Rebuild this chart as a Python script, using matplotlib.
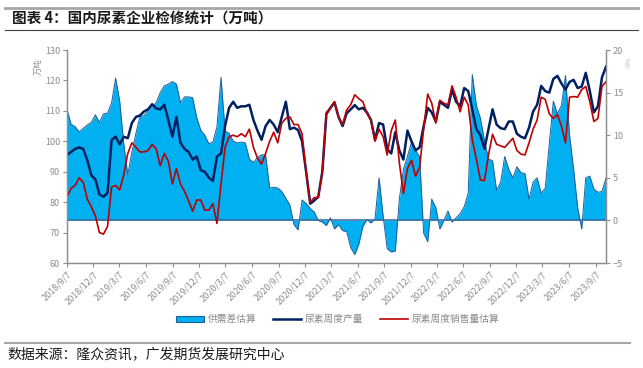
import pandas as pd
import matplotlib
matplotlib.use('agg')
import matplotlib.pyplot as plt
from matplotlib.patches import Patch
from matplotlib.lines import Line2D

plt.rcParams['font.family'] = ['Noto Sans CJK SC', 'DejaVu Sans']

# 双周采样（2018/9/7 起）
dates = pd.date_range('2018-09-07', periods=134, freq='14D')

# 供需差估算（右轴）
gap = [13.0, 11.3, 11.0, 10.4, 10.8, 11.2, 11.5, 12.4, 11.5, 12.5,
       12.6, 13.8, 16.7, 14.0, 9.0, 5.4, 8.0, 10.2, 12.2, 12.3,
       12.9, 13.4, 13.8, 15.0, 15.8, 16.0, 16.3, 16.0, 13.8, 14.5,
       14.5, 14.4, 12.1, 10.6, 10.0, 9.0, 9.2, 11.0, 16.8, 10.5,
       10.2, 9.3, 9.1, 9.2, 9.1, 7.2, 6.8, 7.4, 7.7, 7.7,
       3.8, 3.9, 3.8, 3.4, 2.6, 1.8, -0.5, -1.1, 2.4, 2.0,
       1.4, 1.0, 0.0, -0.2, -0.6, 0.3, -1.0, -0.5, -1.2, -1.3,
       -3.2, -4.0, -2.8, -0.7, 0.1, -0.3, 0.2, 5.0, 0.5, -3.3,
       -3.7, -3.6, 2.5, 6.0, 7.5, 9.2, 8.2, 7.5, -1.5, -2.5,
       2.5, 1.5, -1.0, 0.0, 1.1, -0.2, 0.3, 0.8, 1.6, 3.2,
       17.1, 13.5, 12.0, 9.4, 7.2, 7.0, 3.5, 4.5, 7.5, 6.0,
       5.0, 6.3, 5.6, 5.5, 2.5, 4.5, 5.0, 3.2, 3.8, 9.0,
       14.0, 12.5, 13.5, 17.0, 10.0, 6.0, 1.5, -1.0, 5.0, 5.2,
       3.7, 3.3, 3.4, 5.0]

# 尿素周度产量（左轴）
output = [95.5, 96.5, 97.5, 98.0, 97.5, 93.8, 88.8, 87.5, 82.5, 81.8,
          83.0, 100.5, 101.5, 99.0, 101.5, 101.0, 106.0, 108.0, 108.5, 109.8,
          110.5, 112.2, 110.8, 110.5, 112.0, 107.0, 101.5, 108.0, 99.5, 97.5,
          96.5, 94.0, 95.0, 90.5, 90.0, 88.0, 87.0, 95.0, 96.0, 105.0,
          111.0, 113.0, 111.0, 111.5, 111.5, 112.0, 107.0, 103.5, 100.5, 105.0,
          107.0, 105.5, 103.0, 108.0, 113.0, 104.0, 104.5, 103.7, 100.0, 90.0,
          79.5, 80.5, 81.8, 90.0, 109.0, 111.0, 112.8, 108.0, 105.0, 109.2,
          110.5, 111.9, 110.5, 111.0, 109.5, 107.0, 100.5, 106.0, 105.5, 97.5,
          96.0, 103.0, 97.0, 94.0, 103.5, 100.0, 97.0, 98.0, 105.0, 111.0,
          109.5, 106.5, 113.0, 112.0, 111.0, 117.0, 113.0, 111.5, 117.5, 116.5,
          110.5, 104.0, 102.0, 97.5, 104.0, 110.5, 105.5, 104.3, 104.0, 106.5,
          106.5, 102.5, 101.5, 101.0, 104.5, 109.8, 112.0, 118.2, 116.5, 116.0,
          120.5, 121.5, 119.0, 117.0, 119.5, 120.2, 117.5, 118.0, 122.5, 116.5,
          109.5, 111.5, 121.0, 124.5]

# 尿素周度销售量估算（左轴）
sales = [81.8, 84.5, 85.5, 88.0, 86.5, 81.0, 78.5, 75.5, 70.0, 69.5,
         72.0, 85.0, 85.5, 84.0, 89.0, 96.0, 99.5, 98.0, 96.5, 96.5,
         97.0, 99.0, 97.5, 92.0, 96.0, 93.5, 86.0, 91.0, 86.0, 83.5,
         80.5, 77.0, 80.7, 80.7, 77.4, 77.4, 79.5, 73.0, 86.0, 98.0,
         101.5, 102.0, 101.5, 102.5, 101.5, 104.0, 98.0, 94.5, 92.5, 96.0,
         100.0, 103.0, 99.5, 106.0, 107.5, 108.0, 105.5, 105.5, 102.5, 90.0,
         80.0, 81.5, 81.5, 90.0, 109.5, 110.8, 113.0, 108.0, 105.5, 110.3,
         112.0, 115.3, 114.0, 113.0, 109.2, 107.0, 100.0, 104.0, 101.5, 95.5,
         103.5, 107.0, 93.0, 82.8, 91.0, 93.8, 88.5, 91.5, 104.0, 115.5,
         112.5, 106.0, 113.5, 112.5, 112.0, 118.2, 114.5, 109.7, 114.5, 112.0,
         100.5, 94.2, 87.3, 87.1, 95.5, 102.3, 99.0, 98.5, 98.0, 99.5,
         101.0, 97.0, 95.8, 95.5, 99.5, 104.0, 107.0, 114.5, 113.8, 109.0,
         107.5, 108.8, 105.0, 99.5, 114.5, 114.7, 114.5, 117.0, 118.0, 113.0,
         106.5, 107.5, 118.0, 119.6]

tick_dates = pd.date_range('2018-09-01', '2023-09-01', freq='3MS') + pd.Timedelta(days=6)
tick_labels = [f'{d.year}/{d.month}/{d.day}' for d in tick_dates]

GRAY = '#8c8c8c'
AXC = '#8f8f8f'

fig = plt.figure(figsize=(6.43, 3.68), dpi=100)
ax = fig.add_axes([0.1042, 0.2853, 0.8383, 0.5788])
ax2 = ax.twinx()
ax.set_zorder(ax2.get_zorder() + 1)
ax.patch.set_visible(False)

# 供需差
ax2.fill_between(dates, 0, gap, color='#00B0F0', lw=0)
ax2.plot(dates, gap, color='#1F5C99', lw=0.7)
ax2.axhline(0, color='#3F6FA0', lw=1.2)
ax2.set_ylim(-5, 20)
ax2.set_yticks(range(-5, 21, 5))

# 产量、销量
ax.plot(dates, output, color='#002060', lw=1.8)
ax.plot(dates, sales, color='#C00000', lw=1.2)
ax.set_ylim(60, 130)
ax.set_yticks(range(60, 131, 10))
ax.set_xlim(dates[0], dates[-1])
ax.set_xticks(tick_dates)
ax.set_xticklabels(tick_labels, rotation=45, ha='right', rotation_mode='anchor')

for a in (ax, ax2):
    a.spines['top'].set_visible(False)
    for s in ('left', 'right', 'bottom'):
        a.spines[s].set_color(AXC)
        a.spines[s].set_linewidth(0.9)
    a.tick_params(axis='both', colors=AXC, labelcolor=GRAY, labelsize=6.5,
                  length=3, width=0.8, pad=2)

fig.text(0.059, 0.818, '万吨', rotation=90, fontsize=6, color=GRAY,
         ha='center', va='center')
fig.text(0.978, 0.83, '万吨', rotation=90, fontsize=4, color='#c8c8c8',
         ha='center', va='center')

handles = [Patch(facecolor='#00B0F0', edgecolor='#1F5C99', lw=0.8),
           Line2D([], [], color='#002060', lw=1.8),
           Line2D([], [], color='#C00000', lw=1.2)]
labels = ['供需差估算', '尿素周度产量', '尿素周度销售量估算']
fig.legend(handles, labels, loc='center', bbox_to_anchor=(0.525, 0.133),
           ncol=3, frameon=False, fontsize=7, labelcolor=GRAY,
           handlelength=2.9, handleheight=0.6, handletextpad=0.35,
           columnspacing=1.7)

# 标题与来源
fig.add_artist(Line2D([0.008, 0.992], [0.978, 0.978], color='#a6a6a6', lw=2))
fig.add_artist(Line2D([0.008, 0.992], [0.918, 0.918], color='#404040', lw=0.8))
fig.text(0.018, 0.949, '图表 4：国内尿素企业检修统计（万吨）', fontsize=10.5,
         fontweight='bold', color='#1a1a1a', va='center')
fig.add_artist(Line2D([0.008, 0.98], [0.068, 0.068], color='#a6a6a6', lw=1.5))
fig.text(0.012, 0.037, '数据来源：隆众资讯，广发期货发展研究中心', fontsize=10,
         color='#1a1a1a', va='center')

fig.savefig('out.png', dpi=100)
plt.close(fig)
